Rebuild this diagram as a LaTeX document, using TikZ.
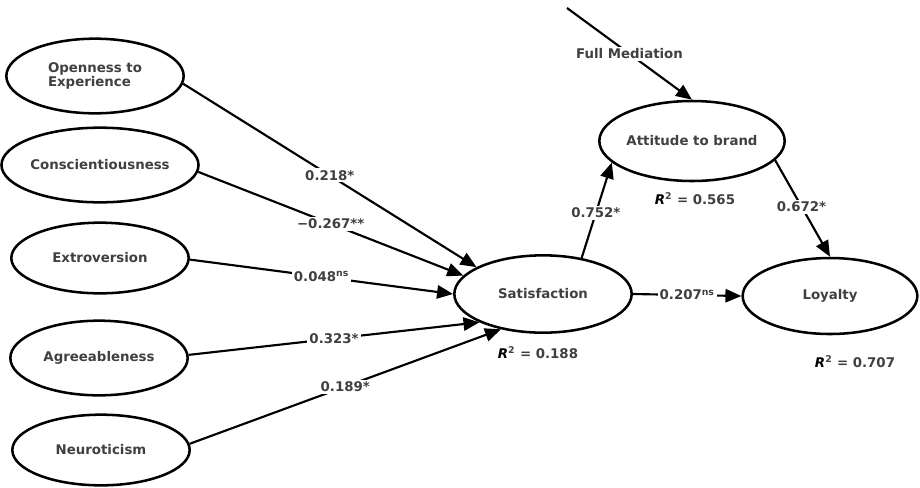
\documentclass[tikz,border=0pt]{standalone}
\usepackage{fontspec}
\setmainfont{DejaVu Sans}
\usetikzlibrary{shapes.geometric,arrows.meta}
\definecolor{txtgray}{HTML}{404040}
\newcommand{\mklatent}[4][]{\node[latent,#1] (#2) at (#3) {#4};}
\newcommand{\rsq}[1]{\textcolor{black}{\textit{R}}\textsuperscript{2} = #1}
\tikzset{
    latent/.style={
        ellipse,
        draw,
        line width=1.9pt,
        minimum width=133pt,
        minimum height=56pt,
        inner sep=0,
        align=left,
        text=txtgray,
        font=\bfseries\fontsize{10}{10.5}\selectfont,
    },
    path/.style={
        line width=1.6pt,
        -{Triangle[length=12pt,width=10pt]},
    },
    coef/.style={
        fill=white,
        inner sep=1.5pt,
        text=txtgray,
        font=\bfseries\fontsize{10}{11}\selectfont,
    },
}

\begin{document}
\begin{tikzpicture}[x=0.75pt,y=-0.75pt]
    \useasboundingbox (0,0) rectangle (920,487);

    % predictors
    \mklatent{open}{95,76}{Openness to\\Experience}
    \mklatent[minimum width=135pt]{consc}{100,165}{Conscientiousness}
    \mklatent[minimum height=53pt]{extra}{100,258}{Extroversion}
    \mklatent{agree}{99,358}{Agreeableness}
    \mklatent[minimum height=53pt]{neuro}{101,450}{Neuroticism}

    % outcomes
    \mklatent[minimum height=58pt]{sat}{543,294}{Satisfaction}
    \mklatent[minimum width=135pt,minimum height=60pt]{att}{692,141}{Attitude to brand}
    \mklatent[minimum width=131pt,minimum height=57pt]{loy}{830,296}{Loyalty}
    \coordinate (fm) at (567,8);

    \draw[path] (open.-5)  -- node[coef] {0.218*} (sat.158);
    \draw[path] (consc.-4) -- node[coef] {−0.267**} (sat.167);
    \draw[path] (extra.-1) -- node[coef] {0.048\textsuperscript{ns}} (sat.180);
    \draw[path] (agree.2)  -- node[coef] {0.323*} (sat.204);
    \draw[path] (neuro.4)  -- node[coef] {0.189*} (sat.220);

    \draw[path] (sat.43)   -- node[coef,pos=0.47] {0.752*} (att.195);
    \draw[path] (att.-13)  -- node[coef,pos=0.48] {0.672*} (loy.north);
    \draw[path] (sat.east) -- node[coef] {0.207\textsuperscript{ns}} (loy.west);
    \draw[path] (fm) -- node[coef] {Full Mediation} (att.north);

    % explained variance
    \node[coef] (rsat) at (538,353) {\rsq{0.188}};
    \node[coef] (ratt) at (695,199) {\rsq{0.565}};
    \node[coef] (rloy) at (855,362) {\rsq{0.707}};
\end{tikzpicture}
\end{document}
